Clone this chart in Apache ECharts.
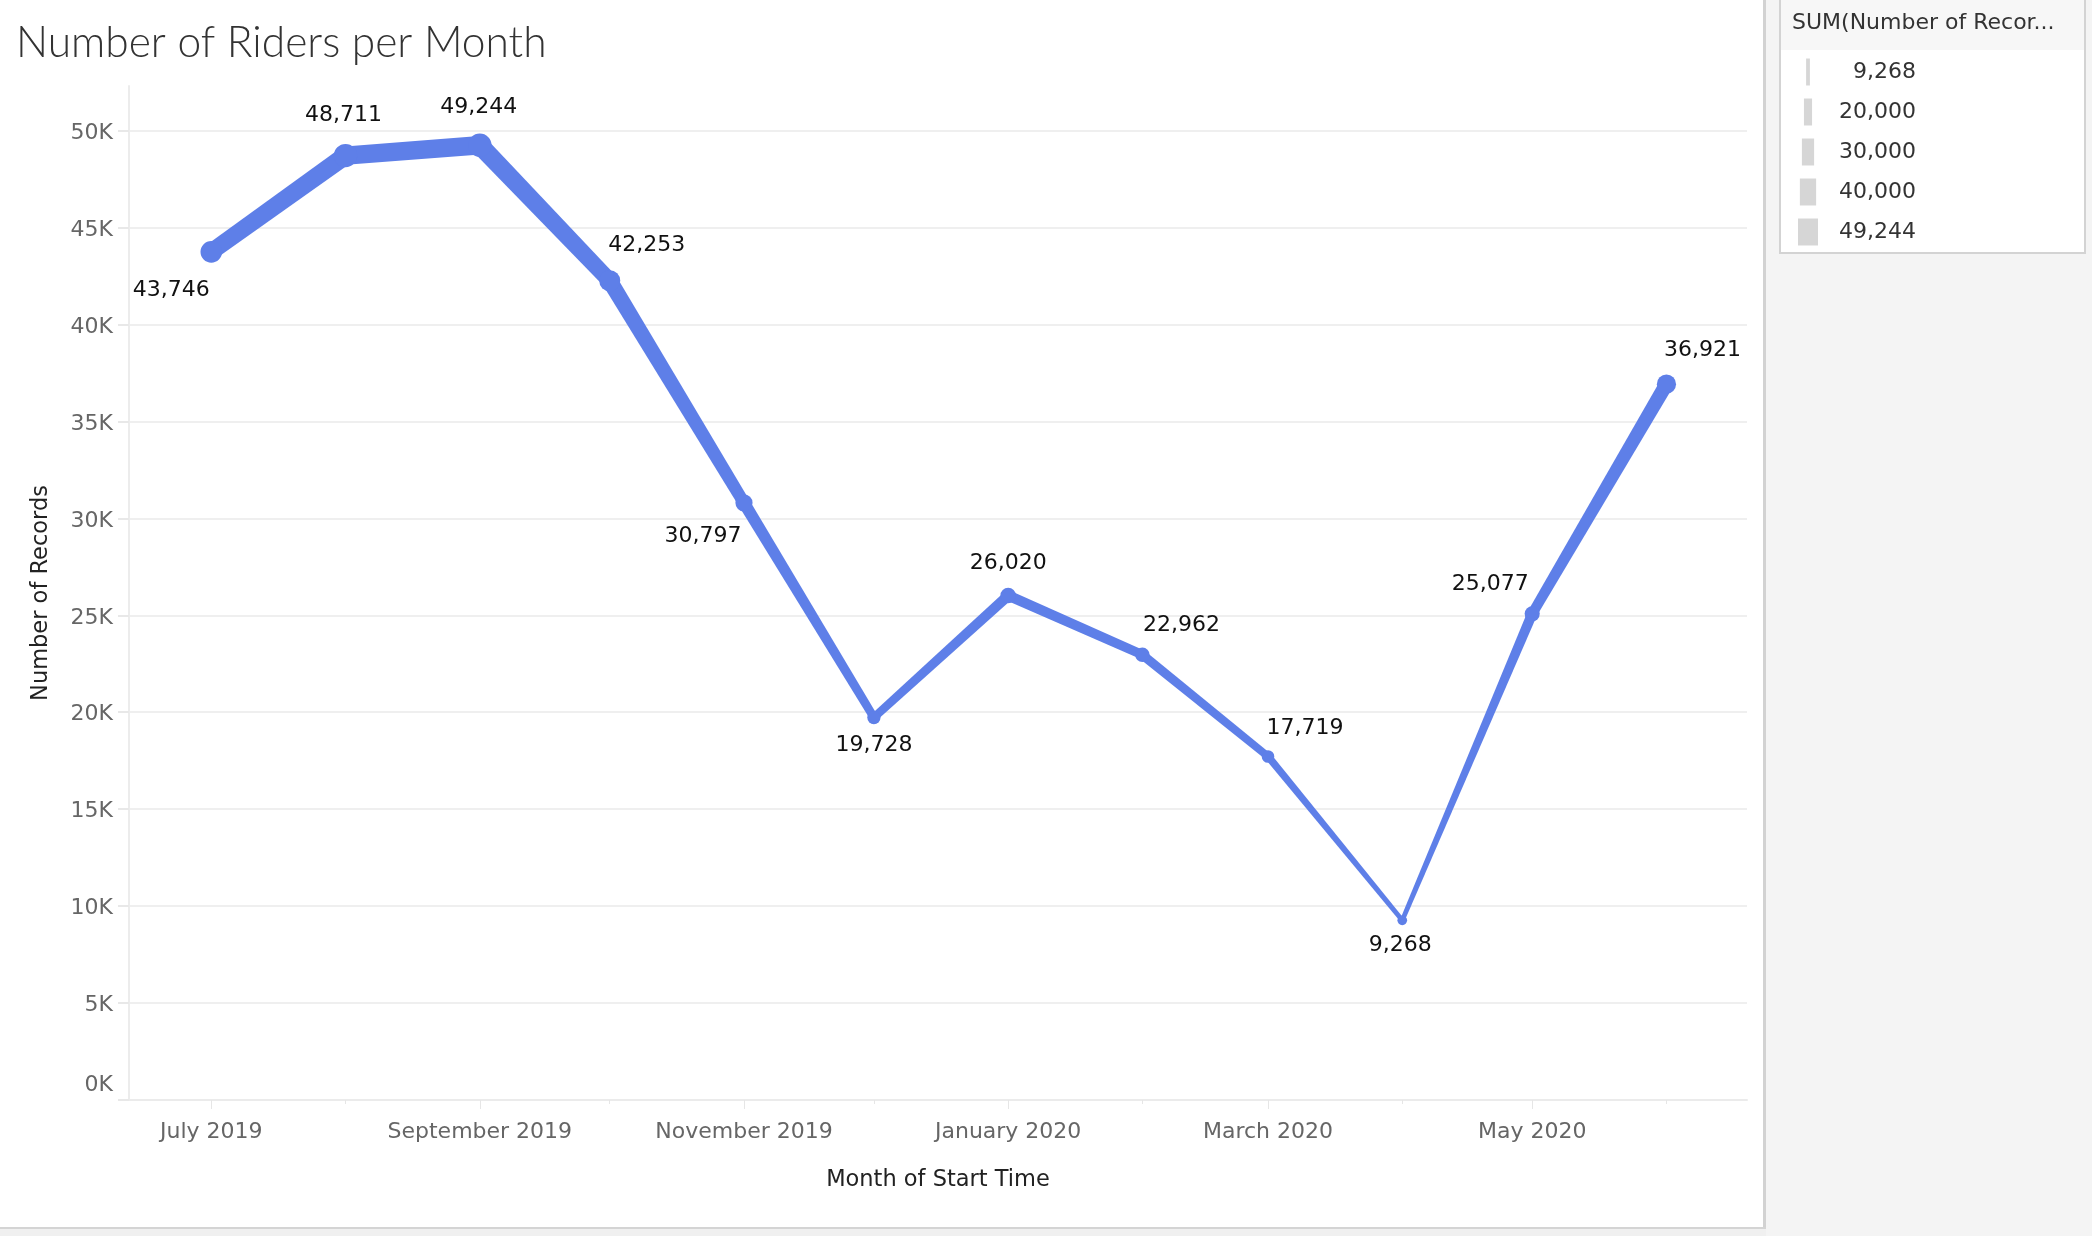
<!DOCTYPE html>
<html><head><meta charset="utf-8">
<script src="https://cdn.jsdelivr.net/npm/echarts@6/dist/echarts.min.js"></script>
<style>html,body{margin:0;padding:0;background:#fff}#c{width:2092px;height:1236px}</style>
</head><body><div id="c"></div>
<script>
// ---- data ----
const months = ['2019-07','2019-08','2019-09','2019-10','2019-11','2019-12','2020-01','2020-02','2020-03','2020-04','2020-05','2020-06'];
const riders = [43746,48711,49244,42253,30797,19728,26020,22962,17719,9268,25077,36921];
const xTickMonths = ['2019-07','2019-09','2019-11','2020-01','2020-03','2020-05'];
const yTicks = [0,5000,10000,15000,20000,25000,30000,35000,40000,45000,50000];
const legendValues = [9268,20000,30000,40000,49244];
const titleText = 'Number of Riders per Month';
const legendTitle = 'SUM(Number of Recor...';
const xName = 'Month of Start Time';
const yName = 'Number of Records';
const monthNames = ['January','February','March','April','May','June','July','August','September','October','November','December'];

// ---- layout / style ----
const labelOffsets = [[-40,38],[-2,-40],[-1,-38],[37,-36],[-41,33],[0,28],[0,-32],[39,-30],[37,-28],[-2,25],[-42,-30],[36,-34]];
const COLOR = '#5e7fe8';
const FONT = 'DejaVu Sans';
const DAY = 86400000;
const toTime = s => { const [y, m] = s.split('-').map(Number); return new Date(y, m - 1, 1).getTime(); };
const times = months.map(toTime);
const fmt = v => v.toLocaleString('en-US');
const lineW = v => 1.5 + v / 2900;
const xMin = times[0] - 19 * DAY;
const xMax = times[times.length - 1] + 18.6 * DAY;

const chart = echarts.init(document.getElementById('c'), null, {renderer: 'canvas'});

const legendGraphics = [];
legendGraphics.push({type:'rect', shape:{x:1765,y:0,width:327,height:1236}, style:{fill:'#f4f4f4'}, silent:true});
legendGraphics.push({type:'rect', shape:{x:1763,y:0,width:3,height:1236}, style:{fill:'#d2d2d2'}, silent:true});
legendGraphics.push({type:'rect', shape:{x:0,y:1227,width:1766,height:9}, style:{fill:'#f0f0f0'}, silent:true});
legendGraphics.push({type:'rect', shape:{x:0,y:1227,width:1766,height:2}, style:{fill:'#d4d4d4'}, silent:true});
legendGraphics.push({type:'rect', shape:{x:1780,y:-2,width:305,height:255}, style:{fill:'#fff', stroke:'#d3d3d3', lineWidth:2}, silent:true});
legendGraphics.push({type:'rect', shape:{x:1781,y:0,width:303,height:50}, style:{fill:'#f7f7f7'}, silent:true});
legendGraphics.push({type:'text', x:1792, y:23, style:{text:legendTitle, font:'22px "' + FONT + '"', fill:'#333', verticalAlign:'middle', align:'left'}, silent:true});
legendValues.forEach((v, k) => {
  const cy = 72 + k * 40;
  const w = v / 2460;
  legendGraphics.push({type:'rect', shape:{x:1808 - w/2, y:cy - 13.5, width:w, height:27}, style:{fill:'#d6d6d6'}, silent:true});
  legendGraphics.push({type:'text', x:1916, y:cy, style:{text:fmt(v), font:'22px "' + FONT + '"', fill:'#333', verticalAlign:'middle', align:'right'}, silent:true});
});

const option = {
  backgroundColor: '#fff',
  animation: false,
  title: {
    text: titleText, left: 11, top: 17,
    textStyle: {fontFamily: 'Lato', fontWeight: 300, fontSize: 42.5, color: '#333'}
  },
  grid: {left: 129, right: 2092 - 1747, top: 86, bottom: 1236 - 1100, containLabel: false},
  xAxis: [{
    type: 'value', min: xMin, max: xMax, position: 'bottom',
    name: xName, nameLocation: 'middle', nameGap: 69,
    nameTextStyle: {fontFamily: FONT, fontSize: 22.5, color: '#222'},
    axisLine: {show: true, lineStyle: {color: '#ebebeb', width: 2}},
    axisTick: {show: true, length: 9, lineStyle: {color: '#e6e6e6', width: 1}, customValues: xTickMonths.map(toTime)},
    axisLabel: {show: true, margin: 21, customValues: xTickMonths.map(toTime), fontFamily: FONT, fontSize: 22, color: '#666',
      formatter: v => { const d = new Date(v); return monthNames[d.getMonth()] + ' ' + d.getFullYear(); }},
    splitLine: {show: false}
  }, {
    type: 'value', min: xMin, max: xMax, position: 'bottom',
    axisLine: {show: false},
    axisTick: {show: true, length: 4, lineStyle: {color: '#e6e6e6', width: 1}, customValues: times},
    axisLabel: {show: false},
    splitLine: {show: false}
  }],
  yAxis: {
    type: 'value', min: 0, max: 52300,
    name: yName, nameLocation: 'middle', nameGap: 76,
    nameTextStyle: {fontFamily: FONT, fontSize: 22.5, color: '#222'},
    axisLine: {show: true, lineStyle: {color: '#ececec', width: 2}},
    axisTick: {show: true, length: 11, lineStyle: {color: '#e8e8e8', width: 2}, customValues: yTicks},
    axisLabel: {margin: 16, customValues: yTicks, fontFamily: FONT, fontSize: 22, color: '#666',
      formatter: v => v === 0 ? '{z|0K}' : '{n|' + (v / 1000) + 'K}',
      rich: {
        n: {fontFamily: FONT, fontSize: 22, color: '#666', padding: [5, 0, 0, 0]},
        z: {fontFamily: FONT, fontSize: 22, color: '#666', padding: [0, 0, 29, 0]}
      }},
    splitLine: {show: true, lineStyle: {color: '#efefef', width: 2}}
  },
  graphic: legendGraphics,
  series: [{
    type: 'custom',
    xAxisIndex: 0,
    data: times.map((t, i) => [t, riders[i]]),
    encode: {x: 0, y: 1},
    clip: false,
    renderItem: (params, api) => {
      const i = params.dataIndex;
      const v = api.value(1);
      const p = api.coord([api.value(0), v]);
      const w = lineW(v);
      const children = [];
      if (i < riders.length - 1) {
        const q = api.coord([times[i + 1], riders[i + 1]]);
        const w2 = lineW(riders[i + 1]);
        const dx = q[0] - p[0], dy = q[1] - p[1], L = Math.hypot(dx, dy);
        const nx = -dy / L, ny = dx / L;
        children.push({type: 'polygon', shape: {points: [
          [p[0] + nx * w / 2, p[1] + ny * w / 2], [q[0] + nx * w2 / 2, q[1] + ny * w2 / 2],
          [q[0] - nx * w2 / 2, q[1] - ny * w2 / 2], [p[0] - nx * w / 2, p[1] - ny * w / 2]]},
          style: {fill: COLOR}});
      }
      children.push({type: 'circle', shape: {cx: p[0], cy: p[1], r: (w + 5) / 2}, style: {fill: COLOR}});
      const off = labelOffsets[i];
      children.push({type: 'text', x: p[0] + off[0], y: p[1] + off[1], z2: 100,
        style: {text: fmt(v), font: '22px "' + FONT + '"', fill: '#111', align: 'center', verticalAlign: 'middle'}});
      return {type: 'group', children};
    }
  }]
};
chart.setOption(option);
</script>
</body></html>
